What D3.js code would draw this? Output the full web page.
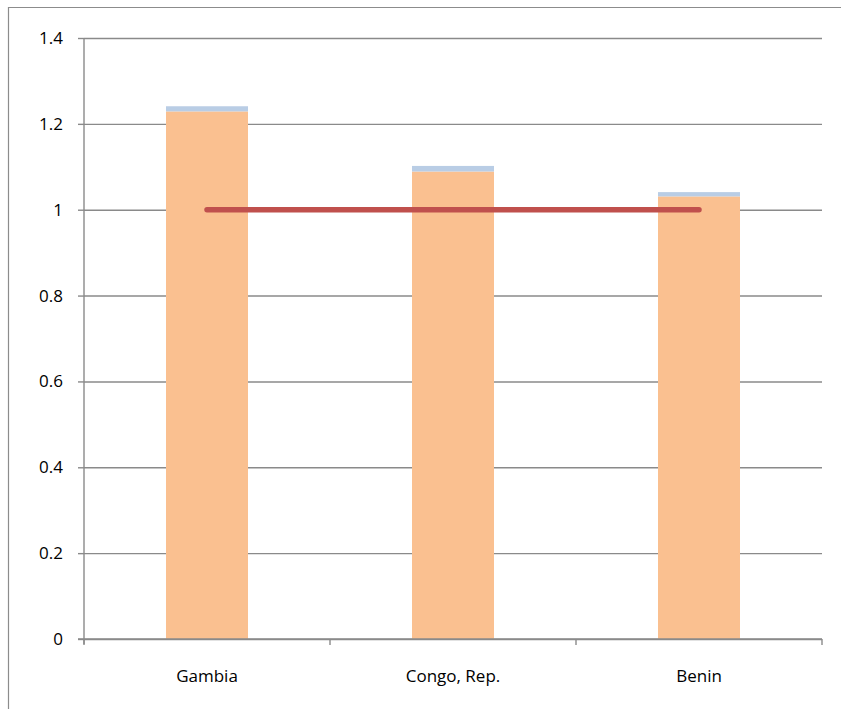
<!DOCTYPE html>
<html>
<head>
<meta charset="utf-8">
<script src="https://cdn.jsdelivr.net/npm/d3@7"></script>
<style>
  html, body { margin: 0; padding: 0; background: #fff; }
  svg text { font-family: "Open Sans", "Noto Sans", sans-serif; fill: #000; }
</style>
</head>
<body>
<svg id="chart" width="841" height="709"></svg>
<script>
// Countries along the x axis
const categories = ["Gambia", "Congo, Rep.", "Benin"];
// Lower (orange) segment of each stacked bar
const baseValues = [1.229, 1.089, 1.031];
// Upper (blue) segment stacked on top
const topValues = [0.012, 0.013, 0.010];
// Reference line drawn across the bars
const refValues = [1, 1, 1];
// Y-axis ticks
const yTicks = [0, 0.2, 0.4, 0.6, 0.8, 1, 1.2, 1.4];

const svg = d3.select("#chart");
const plotLeft = 84, plotRight = 822, plotTop = 38, plotBottom = 639;

// Outer frame (right and bottom run past the visible area)
svg.append("path")
  .attr("d", "M8.5,709 V7.5 H841")
  .attr("fill", "none")
  .attr("stroke", "#8c8c8c")
  .attr("stroke-width", 1.2);

const x = d3.scaleBand().domain(categories).range([plotLeft, plotRight]).paddingInner(0).paddingOuter(0);
const y = d3.scaleLinear().domain([0, 1.4]).range([plotBottom, plotTop]);

// Horizontal gridlines with left tick marks
const yAxis = d3.axisLeft(y).tickValues(yTicks).tickSize(-(plotRight - plotLeft)).tickPadding(16)
  .tickFormat(d => String(+d.toFixed(1)));
const gy = svg.append("g").attr("transform", `translate(${plotLeft},0)`).call(yAxis);
gy.select(".domain").remove();
gy.selectAll(".tick line").attr("stroke", "#8a8a8a").attr("stroke-width", 1.4);
gy.selectAll(".tick").append("line")
  .attr("x1", -6).attr("x2", 0)
  .attr("stroke", "#8a8a8a").attr("stroke-width", 1.4);
gy.selectAll(".tick text").attr("font-size", 17).attr("dx", -5).attr("fill", "#000");

// Vertical axis line
svg.append("line")
  .attr("x1", plotLeft).attr("x2", plotLeft).attr("y1", plotTop).attr("y2", plotBottom + 5)
  .attr("stroke", "#8a8a8a").attr("stroke-width", 1.4);

// Stacked bars
const barW = x.bandwidth() / 3;
const bars = svg.append("g");
categories.forEach((c, i) => {
  const cx = x(c) + x.bandwidth() / 2;
  bars.append("rect")
    .attr("x", cx - barW / 2).attr("width", barW)
    .attr("y", y(baseValues[i])).attr("height", y(0) - y(baseValues[i]))
    .attr("fill", "#fac090");
  bars.append("rect")
    .attr("x", cx - barW / 2).attr("width", barW)
    .attr("y", y(baseValues[i] + topValues[i])).attr("height", y(baseValues[i]) - y(baseValues[i] + topValues[i]))
    .attr("fill", "#b9cde5");
});

// X axis with category boundary ticks
const xAxis = d3.axisBottom(x).tickSize(0).tickPadding(31);
const gx = svg.append("g").attr("transform", `translate(0,${plotBottom})`).call(xAxis);
gx.select(".domain").remove();
gx.selectAll(".tick text").attr("font-size", 17).attr("fill", "#000");
svg.append("line")
  .attr("x1", plotLeft - 6).attr("x2", plotRight).attr("y1", plotBottom).attr("y2", plotBottom)
  .attr("stroke", "#8a8a8a").attr("stroke-width", 1.4);
const bounds = categories.map(c => x(c)).concat([x(categories[categories.length - 1]) + x.bandwidth()]);
svg.append("g").selectAll("line").data(bounds).join("line")
  .attr("x1", d => d).attr("x2", d => d)
  .attr("y1", plotBottom).attr("y2", plotBottom + 6)
  .attr("stroke", "#8a8a8a").attr("stroke-width", 1.4);

// Reference line
const line = d3.line()
  .x((d, i) => x(categories[i]) + x.bandwidth() / 2)
  .y(d => y(d));
svg.append("path")
  .datum(refValues)
  .attr("d", line)
  .attr("fill", "none")
  .attr("stroke", "#c0504d")
  .attr("stroke-width", 5.5)
  .attr("stroke-linecap", "round");
</script>
</body>
</html>
